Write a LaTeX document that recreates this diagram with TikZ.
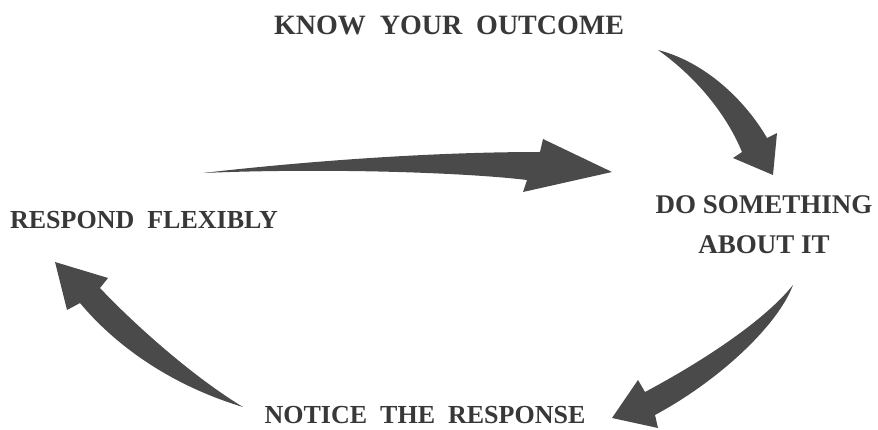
\documentclass[tikz,border=0pt]{standalone}
\usepackage{fontspec}
\setmainfont{Liberation Serif}
\usetikzlibrary{positioning}
\tikzset{
  steptxt/.style={font=\fontsize{28}{32}\selectfont\bfseries, text=black!78,
                  inner sep=0pt, align=center},
  steptxtS/.style={font=\fontsize{26}{40}\selectfont\bfseries, text=black!78,
                  inner sep=0pt, align=center},
  steptxtD/.style={font=\fontsize{27}{40}\selectfont\bfseries, text=black!78,
                  inner sep=0pt, align=center},
  bigarrow/.style={fill=black!71, draw=none},
}
\begin{document}
\begin{tikzpicture}[x=1pt, y=-1pt]
\useasboundingbox (0,0) rectangle (878,430);
% the four steps
\node[steptxt] (know) at (449,25) {KNOW\ \ YOUR\ \ OUTCOME};
\node[steptxtD] (do) at (764,225) {DO SOMETHING\\ABOUT IT};
\node[steptxtS] (notice) at (425,415) {NOTICE\ \ THE\ \ RESPONSE};
\node[steptxtS] (respond) at (144,220) {RESPOND\ \ FLEXIBLY};
% know -> do
\fill[bigarrow] (658,50) .. controls (705,62) and (745,100) .. (767,138)
  -- (777,133) -- (773,175) -- (733,158) -- (742,152)
  .. controls (728,118) and (700,80) .. cycle;
% do -> notice
\fill[bigarrow] (793,285) .. controls (778,325) and (720,380) .. (655,415)
  -- (658,428) -- (612,418) -- (638,380) -- (645,392)
  .. controls (705,360) and (765,320) .. cycle;
% notice -> respond
\fill[bigarrow] (243,407) .. controls (190,375) and (130,320) .. (100,288)
  -- (108,278) -- (55,262) -- (67,310) -- (80,303)
  .. controls (115,345) and (170,385) .. cycle;
% respond -> do
\fill[bigarrow] (203,173) .. controls (290,163) and (420,152) .. (540,152)
  -- (543,139) -- (612,172) -- (523,192) -- (527,180)
  .. controls (460,172) and (320,168) .. cycle;
\end{tikzpicture}
\end{document}
